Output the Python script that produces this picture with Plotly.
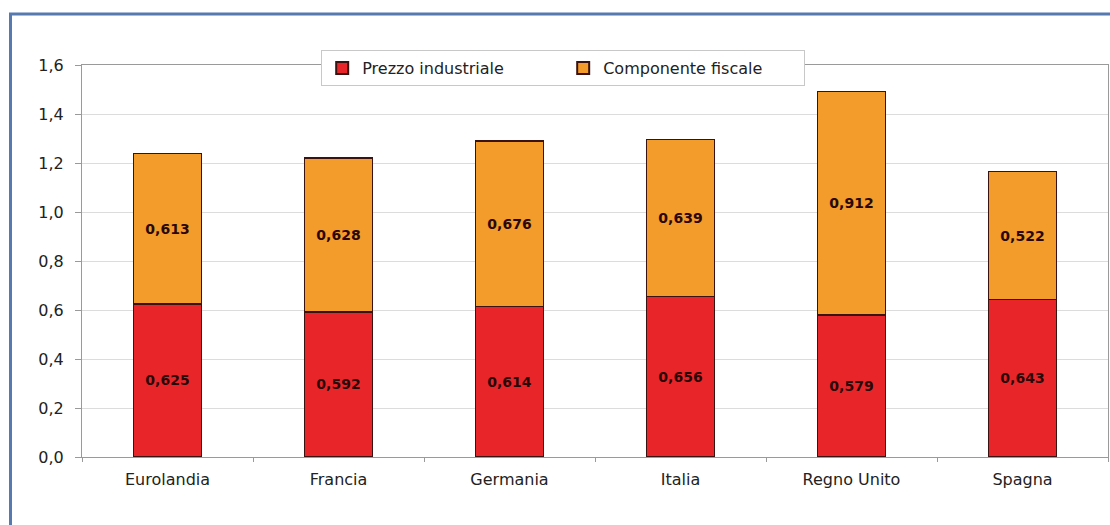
import plotly.graph_objects as go

categories = ["Eurolandia", "Francia", "Germania", "Italia", "Regno Unito", "Spagna"]
prezzo_industriale = [0.625, 0.592, 0.614, 0.656, 0.579, 0.643]
componente_fiscale = [0.613, 0.628, 0.676, 0.639, 0.912, 0.522]
y_ticks = [0.0, 0.2, 0.4, 0.6, 0.8, 1.0, 1.2, 1.4, 1.6]

W, H = 1110, 525
L, R, T, B = 82, 2, 65, 68
FONT = "DejaVu Sans, Verdana, Arial"

label_font = dict(family=FONT, size=14, color="#2a0808", weight="bold")

fig = go.Figure()
fig.add_trace(go.Bar(
    x=categories, y=prezzo_industriale, name="Prezzo industriale",
    marker=dict(color="#E8262A", line=dict(color="#3b1212", width=1.5)),
    texttemplate="%{y:.3f}", textposition="inside", insidetextanchor="middle",
    textfont=label_font, textangle=0,
))
fig.add_trace(go.Bar(
    x=categories, y=componente_fiscale, name="Componente fiscale",
    marker=dict(color="#F39B2B", line=dict(color="#3b1212", width=1.5)),
    texttemplate="%{y:.3f}", textposition="inside", insidetextanchor="middle",
    textfont=label_font, textangle=0,
))

pw = W - L - R
ph = H - T - B
fx0 = (10.5 - L) / pw
fy1 = (H - B - 14) / ph

fig.update_layout(
    width=W, height=H,
    margin=dict(l=L, r=R, t=T, b=B, pad=0),
    barmode="stack", bargap=0.6,
    separators=",.",
    paper_bgcolor="white", plot_bgcolor="white",
    font=dict(family=FONT, size=16, color="#222222"),
    showlegend=True,
    legend=dict(
        orientation="h", x=0.469, xanchor="center", y=1.038, yanchor="top",
        bgcolor="white", bordercolor="#c8c8c8", borderwidth=1,
        font=dict(family=FONT, size=16, color="#222222"),
        entrywidth=196, entrywidthmode="pixels", traceorder="normal",
        itemsizing="constant",
    ),
    xaxis=dict(
        showline=True, linecolor="#9a9a9a", linewidth=1, mirror=True,
        ticks="outside", tickson="boundaries", ticklen=4, tickcolor="#9a9a9a",
        showgrid=False, tickfont=dict(family=FONT, size=16, color="#222222"),
        ticklabelstandoff=8,
    ),
    yaxis=dict(
        range=[0, 1.6], tickvals=y_ticks, tickformat=".1f",
        showline=True, linecolor="#9a9a9a", linewidth=1, mirror=True,
        ticks="outside", ticklen=6, tickcolor="#9a9a9a",
        showgrid=True, gridcolor="#dcdcdc", gridwidth=1,
        zeroline=False, tickfont=dict(family=FONT, size=16, color="#222222"),
        ticklabelstandoff=8,
    ),
    shapes=[dict(
        type="rect", xref="paper", yref="paper",
        x0=fx0, x1=1.05, y0=-0.5, y1=fy1,
        line=dict(color="#5679b0", width=3), fillcolor="rgba(0,0,0,0)",
        layer="below",
    )],
)

fig.write_html("out.html")
